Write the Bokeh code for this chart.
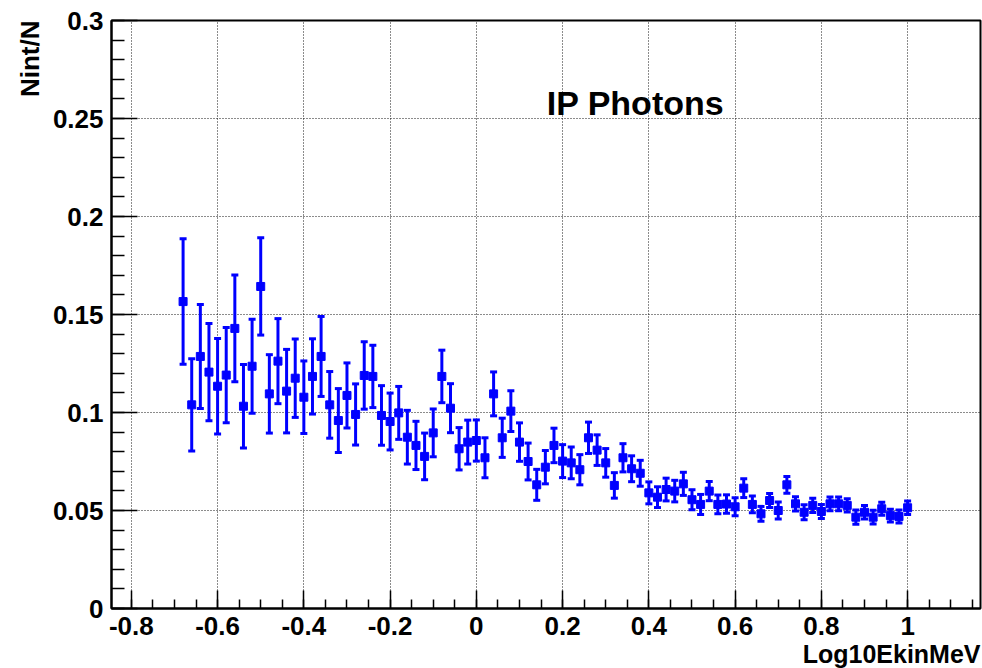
import numpy as np
from bokeh.plotting import figure
from bokeh.models import ColumnDataSource, Whisker, TeeHead, FixedTicker, Label, Range1d, Title
from bokeh.embed import file_html
from bokeh.resources import INLINE

# ---------------- data ----------------
log10_ekin = [round(-0.68 + 0.02 * i, 2) for i in range(85)]
nint_over_n = [
    0.1566, 0.1039, 0.1286, 0.1206, 0.1134, 0.1191, 0.1429, 0.1032, 0.1236, 0.1643,
    0.1095, 0.1262, 0.1109, 0.1175, 0.1078, 0.1184, 0.1286, 0.1039, 0.0959, 0.1087,
    0.0990, 0.1189, 0.1184, 0.0985, 0.0954, 0.0998, 0.0874, 0.0832, 0.0776, 0.0896,
    0.1184, 0.1022, 0.0815, 0.0849, 0.0857, 0.0769, 0.1095, 0.0871, 0.1007, 0.0849,
    0.0750, 0.0631, 0.0721, 0.0832, 0.0752, 0.0743, 0.0708, 0.0871, 0.0808, 0.0743,
    0.0628, 0.0769, 0.0713, 0.0690, 0.0590, 0.0568, 0.0607, 0.0599, 0.0636, 0.0555,
    0.0531, 0.0599, 0.0531, 0.0533, 0.0519, 0.0614, 0.0531, 0.0483, 0.0551, 0.0500,
    0.0631, 0.0534, 0.0491, 0.0526, 0.0495, 0.0534, 0.0534, 0.0526, 0.0466, 0.0491,
    0.0466, 0.0509, 0.0474, 0.0469, 0.0514,
]
errors = [
    0.0320, 0.0235, 0.0265, 0.0248, 0.0244, 0.0243, 0.0272, 0.0213, 0.0240, 0.0248,
    0.0200, 0.0217, 0.0213, 0.0200, 0.0185, 0.0192, 0.0204, 0.0170, 0.0163, 0.0166,
    0.0156, 0.0172, 0.0159, 0.0152, 0.0145, 0.0135, 0.0137, 0.0123, 0.0119, 0.0122,
    0.0134, 0.0125, 0.0108, 0.0112, 0.0105, 0.0102, 0.0112, 0.0100, 0.0104, 0.0098,
    0.0094, 0.0079, 0.0085, 0.0088, 0.0084, 0.0081, 0.0077, 0.0080, 0.0078, 0.0073,
    0.0065, 0.0072, 0.0066, 0.0066, 0.0056, 0.0053, 0.0058, 0.0055, 0.0059, 0.0051,
    0.0051, 0.0049, 0.0048, 0.0047, 0.0046, 0.0048, 0.0043, 0.0038, 0.0036, 0.0043,
    0.0043, 0.0036, 0.0038, 0.0036, 0.0036, 0.0035, 0.0035, 0.0034, 0.0036, 0.0034,
    0.0035, 0.0033, 0.0033, 0.0033, 0.0034,
]

x_ticks = [-0.8, -0.6, -0.4, -0.2, 0.0, 0.2, 0.4, 0.6, 0.8, 1.0]
x_tick_labels = ["-0.8", "-0.6", "-0.4", "-0.2", "0", "0.2", "0.4", "0.6", "0.8", "1"]
y_ticks = [0.0, 0.05, 0.1, 0.15, 0.2, 0.25, 0.3]
y_tick_labels = ["0", "0.05", "0.1", "0.15", "0.2", "0.25", "0.3"]

title_text = "IP Photons"
x_label = "Log10EkinMeV"
y_label = "Nint/N"

X_MIN, X_MAX = -0.846, 1.169
Y_MIN, Y_MAX = 0.0, 0.3

BLUE = "#0000ff"
FONT = "Liberation Sans"

# ---------------- figure ----------------
src = ColumnDataSource(dict(
    x=log10_ekin,
    y=nint_over_n,
    lo=[v - e for v, e in zip(nint_over_n, errors)],
    hi=[v + e for v, e in zip(nint_over_n, errors)],
))

p = figure(width=982, height=668, output_backend="svg", toolbar_location=None,
           x_range=Range1d(X_MIN, X_MAX), y_range=Range1d(Y_MIN, Y_MAX))
p.min_border_left = 111
p.min_border_right = 2
p.min_border_top = 20
p.min_border_bottom = 60
p.background_fill_color = "white"
p.border_fill_color = "white"
p.outline_line_color = "black"
p.outline_line_width = 2

# ticks / axes
x_minor = [round(v, 2) for v in np.arange(-0.85, 1.2001, 0.05)]
y_minor = [round(v, 3) for v in np.arange(0.0, 0.3001, 0.01)]
p.xaxis.ticker = FixedTicker(ticks=x_ticks, minor_ticks=x_minor)
p.yaxis.ticker = FixedTicker(ticks=y_ticks, minor_ticks=y_minor)
p.xaxis.major_label_overrides = {t: l for t, l in zip(x_ticks, x_tick_labels)}
p.yaxis.major_label_overrides = {t: l for t, l in zip(y_ticks, y_tick_labels)}

for ax in (p.xaxis, p.yaxis):
    ax.axis_line_color = "black"
    ax.axis_line_width = 2
    ax.major_tick_line_color = "black"
    ax.minor_tick_line_color = "black"
    ax.major_tick_line_width = 1.5
    ax.minor_tick_line_width = 1.5
    ax.major_tick_out = 0
    ax.minor_tick_out = 0
    ax.major_label_text_font = FONT
    ax.major_label_text_font_style = "bold"
    ax.major_label_text_font_size = "26px"
    ax.major_label_text_color = "black"

p.xaxis.major_tick_in = 18
p.xaxis.minor_tick_in = 9
p.yaxis.major_tick_in = 26
p.yaxis.minor_tick_in = 13
p.xaxis.major_label_standoff = 8
p.yaxis.major_label_standoff = 8

p.xgrid.ticker = FixedTicker(ticks=x_ticks)
p.ygrid.ticker = FixedTicker(ticks=y_ticks)
for g in (p.xgrid, p.ygrid):
    g.grid_line_color = "black"
    g.grid_line_width = 1
    g.grid_line_dash = "1 2"
    g.grid_line_alpha = 0.9

# error bars
wh = Whisker(source=src, base="x", upper="hi", lower="lo", dimension="height",
             line_color=BLUE, line_width=3,
             upper_head=TeeHead(size=7, line_color=BLUE, line_width=3),
             lower_head=TeeHead(size=7, line_color=BLUE, line_width=3))
p.add_layout(wh)

p.scatter("x", "y", source=src, marker="square", size=8,
          fill_color=BLUE, line_color=BLUE)

# texts
p.add_layout(Label(x=0.369, y=0.2577, text=title_text, text_align="center",
                   text_baseline="alphabetic", text_font=FONT,
                   text_font_style="bold", text_font_size="34px",
                   text_color="black"))

xt = Title(text=x_label, align="right", text_font=FONT, text_font_style="bold",
           text_font_size="25px", text_color="black", standoff=0, offset=0)
p.add_layout(xt, "below")
yt = Title(text=y_label, align="right", text_font=FONT, text_font_style="bold",
           text_font_size="26px", text_color="black", standoff=9, offset=0)
p.add_layout(yt, "left")

open("out.html", "w").write(file_html(p, INLINE))
